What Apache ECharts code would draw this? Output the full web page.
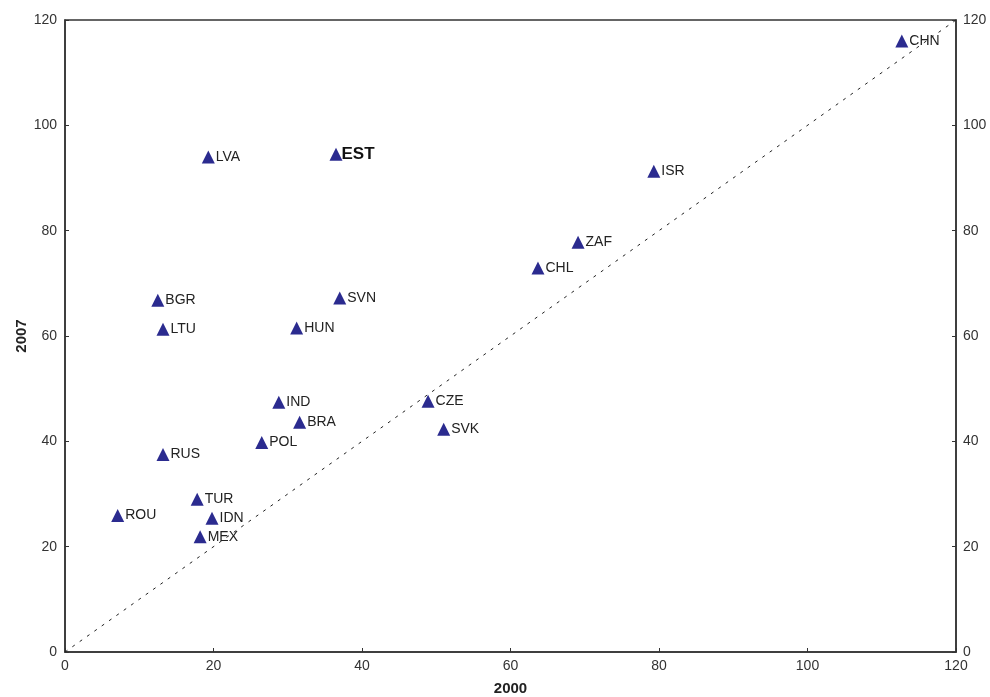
<!DOCTYPE html>
<html>
<head>
<meta charset="utf-8">
<script src="https://cdn.jsdelivr.net/npm/echarts@6/dist/echarts.min.js"></script>
<style>
  html, body { margin: 0; padding: 0; background: #fff; }
  #chart { width: 990px; height: 697px; }
</style>
</head>
<body>
<div id="chart"></div>
<script>
// Country codes and their values in 2000 (x) and 2007 (y)
const countries = ['CHN', 'LVA', 'EST', 'ISR', 'ZAF', 'CHL', 'BGR', 'SVN', 'LTU', 'HUN',
                   'IND', 'CZE', 'BRA', 'SVK', 'POL', 'RUS', 'TUR', 'ROU', 'IDN', 'MEX'];
const values2000 = [112.7, 19.3, 36.5, 79.3, 69.1, 63.7, 12.5, 37.0, 13.2, 31.2,
                    28.8, 48.9, 31.6, 51.0, 26.5, 13.2, 17.8, 7.1, 19.8, 18.2];
const values2007 = [116.0, 94.0, 94.5, 91.3, 77.8, 72.9, 66.8, 67.2, 61.3, 61.5,
                    47.4, 47.6, 43.6, 42.3, 39.8, 37.5, 29.0, 25.9, 25.4, 21.9];
const highlighted = 'EST';
const axisTicks = [0, 20, 40, 60, 80, 100, 120];

const points = countries.map((c, i) => {
  const item = { name: c, value: [values2000[i], values2007[i]] };
  if (c === highlighted) {
    item.label = { fontSize: 17, fontWeight: 'bold', color: '#111', offset: [-2, 0] };
  }
  return item;
});

const axisMin = axisTicks[0];
const axisMax = axisTicks[axisTicks.length - 1];
const axisStep = axisTicks[1] - axisTicks[0];

const font = 'Liberation Sans, Arial, sans-serif';
const frameColor = '#333';
const tickLabel = { color: '#333', fontSize: 14, fontFamily: font };
function innerTick() {
  return { show: true, inside: true, length: 4, lineStyle: { color: frameColor, width: 1 } };
}
function frameLine() {
  return { show: true, onZero: false, lineStyle: { color: frameColor, width: 1.5 } };
}

const chart = echarts.init(document.getElementById('chart'));
chart.setOption({
  animation: false,
  backgroundColor: '#fff',
  grid: {
    left: 65, right: 34, top: 20, bottom: 45, outerBoundsMode: 'none',
    show: true, borderColor: frameColor, borderWidth: 1.5, backgroundColor: 'transparent'
  },
  xAxis: {
    type: 'value', min: axisMin, max: axisMax, interval: axisStep,
    name: '2000', nameLocation: 'middle', nameGap: 29,
    nameTextStyle: { fontSize: 15, fontWeight: 'bold', color: '#222', fontFamily: font },
    axisLine: frameLine(),
    axisTick: innerTick(),
    axisLabel: Object.assign({ margin: 7 }, tickLabel),
    splitLine: { show: false }
  },
  yAxis: [{
    type: 'value', min: axisMin, max: axisMax, interval: axisStep,
    name: '2007', nameLocation: 'middle', nameGap: 36, nameMoveOverlap: false,
    nameTextStyle: { fontSize: 15, fontWeight: 'bold', color: '#222', fontFamily: font },
    axisLine: frameLine(),
    axisTick: innerTick(),
    axisLabel: Object.assign({ margin: 8 }, tickLabel),
    splitLine: { show: false }
  }, {
    type: 'value', position: 'right', min: axisMin, max: axisMax, interval: axisStep,
    axisLine: frameLine(),
    axisTick: innerTick(),
    axisLabel: Object.assign({ margin: 7 }, tickLabel),
    splitLine: { show: false }
  }],
  series: [{
    // 45-degree reference line
    type: 'line',
    data: [[axisMin, axisMin], [axisMax, axisMax]],
    symbol: 'none',
    silent: true,
    lineStyle: { color: '#222', width: 1, type: [3, 6] },
    z: 1
  }, {
    type: 'scatter',
    data: points,
    symbol: 'triangle',
    symbolSize: 13,
    itemStyle: { color: '#2b2b8f', opacity: 1 },
    label: {
      show: true,
      position: 'right',
      distance: 1,
      formatter: '{b}',
      color: '#222',
      fontSize: 14,
      fontFamily: font
    },
    z: 3
  }]
});
</script>
</body>
</html>
